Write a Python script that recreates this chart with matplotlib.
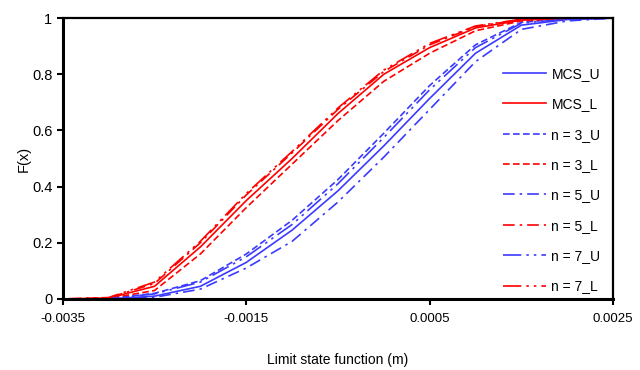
import numpy as np
import matplotlib
matplotlib.use("Agg")
from matplotlib import pyplot as plt

plt.rcParams['font.family'] = ['Liberation Sans', 'DejaVu Sans']

# limit state function values (m)
x = [-0.0035, -0.003, -0.0025, -0.002, -0.0015, -0.001, -0.0005,
     0.0, 0.0005, 0.001, 0.0015, 0.002, 0.0025]

mcs_u = [0, 0.0, 0.01, 0.045, 0.13, 0.245, 0.385, 0.545, 0.714, 0.875, 0.975, 0.995, 1.0]
mcs_l = [0, 0.003, 0.045, 0.185, 0.35, 0.50, 0.66, 0.80, 0.895, 0.965, 0.993, 1.0, 1.0]
n3_u = [0, 0.001, 0.02, 0.065, 0.16, 0.28, 0.425, 0.59, 0.76, 0.905, 0.985, 0.998, 1.0]
n3_l = [0, 0.002, 0.03, 0.16, 0.325, 0.48, 0.635, 0.775, 0.875, 0.955, 0.99, 1.0, 1.0]
n5_u = [0, 0.0, 0.006, 0.035, 0.11, 0.205, 0.345, 0.505, 0.675, 0.845, 0.96, 0.99, 1.0]
n5_l = [0, 0.004, 0.055, 0.20, 0.37, 0.52, 0.675, 0.81, 0.905, 0.97, 0.995, 1.0, 1.0]
n7_u = [0, 0.001, 0.018, 0.06, 0.15, 0.265, 0.41, 0.575, 0.745, 0.895, 0.982, 0.997, 1.0]
n7_l = [0, 0.005, 0.06, 0.205, 0.375, 0.525, 0.68, 0.815, 0.91, 0.972, 0.996, 1.0, 1.0]

xticks = [-0.0035, -0.0015, 0.0005, 0.0025]
xtick_labels = ["-0.0035", "-0.0015", "0.0005", "0.0025"]
yticks = [0, 0.2, 0.4, 0.6, 0.8, 1]
ytick_labels = ["0", "0.2", "0.4", "0.6", "0.8", "1"]

blue = "#3b3bff"
red = "#ff0000"
dashed = (0, (4, 2))
dashdot = (0, (7, 3, 1.5, 3))
dashdotdot = (0, (11, 3, 1.5, 3, 1.5, 3))

fig = plt.figure(figsize=(6.4, 3.7), dpi=100)
ax = fig.add_axes([0.098, 0.192, 0.86, 0.759])

lw = 1.2
ax.plot(x, mcs_u, color=blue, lw=lw, label="MCS_U")
ax.plot(x, mcs_l, color=red, lw=lw, label="MCS_L")
ax.plot(x, n3_u, color=blue, lw=lw, ls=dashed, label="n = 3_U")
ax.plot(x, n3_l, color=red, lw=lw, ls=dashed, label="n = 3_L")
ax.plot(x, n5_u, color=blue, lw=lw, ls=dashdot, label="n = 5_U")
ax.plot(x, n5_l, color=red, lw=lw, ls=dashdot, label="n = 5_L")
ax.plot(x, n7_u, color=blue, lw=lw, ls=dashdotdot, label="n = 7_U")
ax.plot(x, n7_l, color=red, lw=lw, ls=dashdotdot, label="n = 7_L")

ax.set_xlim(-0.0035, 0.0025)
ax.set_ylim(0, 1)
ax.set_xticks(xticks)
ax.set_xticklabels(xtick_labels, fontsize=9.5)
ax.set_yticks(yticks)
ax.set_yticklabels(ytick_labels, fontsize=10.5)
ax.tick_params(direction="out", length=4, width=1.5, color="black")
ax.tick_params(axis="x", pad=6)

for side in ["top", "right"]:
    ax.spines[side].set_linewidth(1.6)
for side in ["left", "bottom"]:
    ax.spines[side].set_linewidth(2.2)

ax.set_xlabel("Limit state function (m)", fontsize=10, labelpad=20)
ax.set_ylabel("F(x)", fontsize=10.5, labelpad=1)

ax.legend(loc="lower right", frameon=False, fontsize=10, handlelength=3.1,
          handletextpad=0.4, labelspacing=1.18, bbox_to_anchor=(1.0, -0.025))

fig.savefig("out.png", dpi=100)
